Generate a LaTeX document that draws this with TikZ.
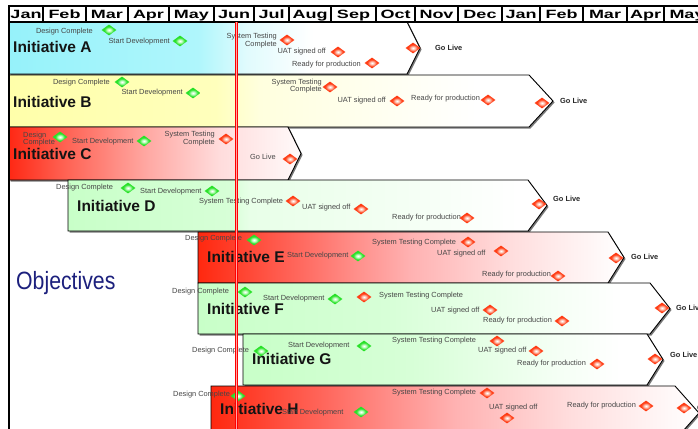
\documentclass[tikz,border=0pt]{standalone}
\usepackage{fontspec}
\setmainfont{Liberation Sans}
\newfontfamily\hdrfont[FakeStretch=1.5]{Liberation Sans}
\newfontfamily\objfont[FakeStretch=0.85]{Liberation Sans}
\usetikzlibrary{shapes.geometric}

\definecolor{labelgray}{RGB}{70,70,70}
\definecolor{objblue}{RGB}{28,32,125}
\definecolor{gout}{RGB}{40,225,40}
\definecolor{gin}{RGB}{200,255,200}
\definecolor{rout}{RGB}{255,60,20}
\definecolor{rin}{RGB}{255,205,190}
\definecolor{todayred}{RGB}{255,0,0}
\definecolor{todaypink}{RGB}{255,165,165}
\definecolor{shadowc}{RGB}{120,120,120}
\definecolor{cA0}{RGB}{150,242,250}
\definecolor{cA1}{RGB}{175,246,252}
\definecolor{cA2}{RGB}{225,251,253}
\definecolor{cB0}{RGB}{255,255,170}
\definecolor{cB1}{RGB}{255,255,188}
\definecolor{cB2}{RGB}{255,255,222}
\definecolor{cC0}{RGB}{255,40,20}
\definecolor{cC1}{RGB}{255,95,80}
\definecolor{cC2}{RGB}{255,170,165}
\definecolor{cC3}{RGB}{255,220,220}
\definecolor{cC4}{RGB}{255,250,250}
\definecolor{cG0}{RGB}{200,255,200}
\definecolor{cG1}{RGB}{215,255,215}
\definecolor{cG2}{RGB}{232,255,232}
\definecolor{cG3}{RGB}{244,255,244}
\definecolor{cR0}{RGB}{255,40,15}
\definecolor{cR1}{RGB}{255,105,95}
\definecolor{cR2}{RGB}{255,140,135}
\definecolor{cR3}{RGB}{255,178,178}
\definecolor{cR4}{RGB}{255,222,222}
\definecolor{cR5}{RGB}{255,248,248}

\pgfdeclarehorizontalshading{shA}{100bp}{color(0bp)=(cA0); color(25bp)=(cA0); color(48bp)=(cA1); color(54bp)=(cA2); color(62bp)=(white); color(100bp)=(white)}
\pgfdeclarehorizontalshading{shB}{100bp}{color(0bp)=(cB0); color(25bp)=(cB0); color(44bp)=(cB1); color(48bp)=(cB2); color(68bp)=(white); color(100bp)=(white)}
\pgfdeclarehorizontalshading{shC}{100bp}{color(0bp)=(cC0); color(25bp)=(cC0); color(34bp)=(cC1); color(49bp)=(cC2); color(61bp)=(cC3); color(75bp)=(cC4); color(100bp)=(cC4)}
\pgfdeclarehorizontalshading{shD}{100bp}{color(0bp)=(cG0); color(25bp)=(cG0); color(42bp)=(cG1); color(44bp)=(cG2); color(60bp)=(cG3); color(72bp)=(white); color(100bp)=(white)}
\pgfdeclarehorizontalshading{shGr}{100bp}{color(0bp)=(cG0); color(25bp)=(cG0); color(45bp)=(cG1); color(55bp)=(cG2); color(62bp)=(cG3); color(70bp)=(white); color(100bp)=(white)}
\pgfdeclarehorizontalshading{shR}{100bp}{color(0bp)=(cR0); color(25bp)=(cR0); color(37bp)=(cR1); color(43bp)=(cR2); color(50bp)=(cR3); color(62bp)=(cR4); color(72bp)=(cR5); color(75bp)=(white); color(100bp)=(white)}
\pgfdeclareradialshading{gdshade}{\pgfpoint{0bp}{0bp}}{color(0bp)=(white); color(6bp)=(gin); color(16bp)=(gout); color(50bp)=(gout)}
\pgfdeclareradialshading{rdshade}{\pgfpoint{0bp}{0bp}}{color(0bp)=(white); color(6bp)=(rin); color(16bp)=(rout); color(50bp)=(rout)}

\newcommand\mychev[6]{%
  \fill[shadowc, shift={(1.5,1.5)}] (#1,#2) -- (#3,#2) -- (#4,{(#2+#5)/2}) -- (#3,#5) -- (#1,#5) -- cycle;
  \shade[shading=#6, draw=black, line width=0.9pt] (#1,#2) -- (#3,#2) -- (#4,{(#2+#5)/2}) -- (#3,#5) -- (#1,#5) -- cycle;
}

\begin{document}
\begin{tikzpicture}[x=1pt,y=-1pt,
  lbl/.style={font=\fontsize{7.4}{7.6}\selectfont, text=labelgray, inner sep=0pt},
  gl/.style={font=\fontsize{7.4}{8}\selectfont\bfseries, text=black!85, inner sep=0pt, anchor=west},
  init/.style={font=\fontsize{15.5}{16}\selectfont\bfseries, text=black!92, inner sep=0pt, anchor=west},
  gdia/.style={diamond, aspect=1.4, minimum width=15pt, minimum height=11pt, inner sep=0pt, shade, shading=gdshade},
  rdia/.style={diamond, aspect=1.4, minimum width=15pt, minimum height=11pt, inner sep=0pt, shade, shading=rdshade},
  hdr/.style={font=\hdrfont\fontsize{12}{13}\selectfont\bfseries, draw=black, line width=1.2pt, fill=white,
    minimum height=16pt, text height=11pt, text depth=1pt, inner sep=0pt, outer sep=0pt, anchor=north west}]
\useasboundingbox (0,0) rectangle (698,428);
\clip (0,0) rectangle (698,428);
\fill[white] (0,0) rectangle (698,428);

% initiative bars
\mychev{9}{22}{407}{420}{74}{shA}
\mychev{9}{75}{529}{553}{127}{shB}
\mychev{9}{127}{288}{301}{180}{shC}
\mychev{68}{180}{528}{547}{231}{shD}
\mychev{198}{232}{608}{624}{283}{shR}
\mychev{198}{283}{650}{670}{334}{shGr}
\mychev{243}{334}{647}{663}{385}{shGr}
\mychev{211}{386}{675}{699}{440}{shR}

% left border
\coordinate (lbTop) at (9,6);
\coordinate (lbBot) at (9,430);
\draw[line width=2pt] (lbTop) -- (lbBot);

% header
\foreach \m/\a/\b [count=\i] in {Jan/9/43,Feb/43/86,Mar/86/128,Apr/128/169,May/169/214,Jun/214/254,Jul/254/289,Aug/289/331,Sep/331/376,Oct/376/415,Nov/415/458,Dec/458/502,Jan/502/540,Feb/540/583,Mar/583/627,Apr/627/664,May/664/710}
  \node[hdr, minimum width={(\b-\a)*1pt}] (m\i) at (\a,6) {\m};

% Objectives
\node[font=\objfont\fontsize{25}{26}\selectfont, text=objblue, inner sep=0pt, anchor=west] (obj) at (16,283) {Objectives};

% Row A
\node[init] (aN) at (13,47) {Initiative A};
\node[lbl, anchor=east] (aDCt) at (93,32) {Design Complete};
\node[gdia] (aDC) at (109,30) {};
\node[lbl, anchor=east] (aSDt) at (170,42) {Start Development};
\node[gdia] (aSD) at (180,41) {};
\node[lbl, anchor=east, align=right] (aSTt) at (277,40.5) {System Testing\\Complete};
\node[rdia] (aST) at (287,40) {};
\node[lbl, anchor=east] (aUATt) at (326,52) {UAT signed off};
\node[rdia] (aUAT) at (338,52) {};
\node[lbl, anchor=east] (aRPt) at (361,65) {Ready for production};
\node[rdia] (aRP) at (372,63) {};
\node[rdia] (aGL) at (413,48) {};
\node[gl] (aGLt) at (435,48) {Go Live};

% Row B
\node[init] (bN) at (13,102) {Initiative B};
\node[lbl, anchor=east] (bDCt) at (110,83) {Design Complete};
\node[gdia] (bDC) at (122,82) {};
\node[lbl, anchor=east] (bSDt) at (183,93) {Start Development};
\node[gdia] (bSD) at (193,93) {};
\node[lbl, anchor=east, align=right] (bSTt) at (322,86) {System Testing\\Complete};
\node[rdia] (bST) at (330,87) {};
\node[lbl, anchor=east] (bUATt) at (386,101) {UAT signed off};
\node[rdia] (bUAT) at (397,101) {};
\node[lbl, anchor=west] (bRPt) at (411,99) {Ready for production};
\node[rdia] (bRP) at (488,100) {};
\node[rdia] (bGL) at (542,103) {};
\node[gl] (bGLt) at (560,101) {Go Live};

% Row C
\node[init] (cN) at (13,154) {Initiative C};
\node[lbl, anchor=west, align=left] (cDCt) at (23,139) {Design\\Complete};
\node[gdia] (cDC) at (60,137) {};
\node[lbl, anchor=west] (cSDt) at (72,142) {Start Development};
\node[gdia] (cSD) at (144,141) {};
\node[lbl, anchor=east, align=right] (cSTt) at (215,138.5) {System Testing\\Complete};
\node[rdia] (cST) at (226,139) {};
\node[lbl, anchor=west] (cGLt) at (250,157) {Go Live};
\node[rdia] (cGL) at (290,159) {};

% Row D
\node[init] (dN) at (77,206) {Initiative D};
\node[lbl, anchor=west] (dDCt) at (56,188) {Design Complete};
\node[gdia] (dDC) at (128,188) {};
\node[lbl, anchor=west] (dSDt) at (140,192) {Start Development};
\node[gdia] (dSD) at (212,191) {};
\node[lbl, anchor=west] (dSTt) at (199,202) {System Testing Complete};
\node[rdia] (dST) at (293,201) {};
\node[lbl, anchor=west] (dUATt) at (302,208) {UAT signed off};
\node[rdia] (dUAT) at (361,209) {};
\node[lbl, anchor=west] (dRPt) at (392,218) {Ready for production};
\node[rdia] (dRP) at (467,218) {};
\node[rdia] (dGL) at (539,204) {};
\node[gl] (dGLt) at (553,199) {Go Live};

% Row E
\node[init] (eN) at (207,257) {Initiative E};
\node[lbl, anchor=west] (eDCt) at (185,239) {Design Complete};
\node[gdia] (eDC) at (254,240) {};
\node[lbl, anchor=west] (eSDt) at (287,256) {Start Development};
\node[gdia] (eSD) at (358,256) {};
\node[lbl, anchor=west] (eSTt) at (372,243) {System Testing Complete};
\node[rdia] (eST) at (468,242) {};
\node[lbl, anchor=west] (eUATt) at (437,254) {UAT signed off};
\node[rdia] (eUAT) at (501,251) {};
\node[lbl, anchor=west] (eRPt) at (482,275) {Ready for production};
\node[rdia] (eRP) at (558,276) {};
\node[rdia] (eGL) at (616,258) {};
\node[gl] (eGLt) at (631,257) {Go Live};

% Row F
\node[init] (fN) at (207,309) {Initiative F};
\node[lbl, anchor=west] (fDCt) at (172,292) {Design Complete};
\node[gdia] (fDC) at (245,292) {};
\node[lbl, anchor=west] (fSDt) at (263,299) {Start Development};
\node[gdia] (fSD) at (335,299) {};
\node[rdia] (fST) at (364,297) {};
\node[lbl, anchor=west] (fSTt) at (379,296) {System Testing Complete};
\node[lbl, anchor=west] (fUATt) at (431,311) {UAT signed off};
\node[rdia] (fUAT) at (490,310) {};
\node[lbl, anchor=west] (fRPt) at (483,321) {Ready for production};
\node[rdia] (fRP) at (562,321) {};
\node[rdia] (fGL) at (662,308) {};
\node[gl] (fGLt) at (676,308) {Go Live};

% Row G
\node[init] (gN) at (252,359) {Initiative G};
\node[lbl, anchor=west] (gDCt) at (192,351) {Design Complete};
\node[gdia] (gDC) at (261,351) {};
\node[lbl, anchor=west] (gSDt) at (288,346) {Start Development};
\node[gdia] (gSD) at (364,346) {};
\node[lbl, anchor=west] (gSTt) at (392,341) {System Testing Complete};
\node[rdia] (gST) at (497,341) {};
\node[lbl, anchor=west] (gUATt) at (478,351) {UAT signed off};
\node[rdia] (gUAT) at (536,351) {};
\node[lbl, anchor=west] (gRPt) at (517,364) {Ready for production};
\node[rdia] (gRP) at (597,364) {};
\node[rdia] (gGL) at (655,359) {};
\node[gl] (gGLt) at (670,355) {Go Live};

% Row H
\node[init] (hN) at (220,409) {Initiative H};
\node[lbl, anchor=west] (hDCt) at (173,395) {Design Complete};
\node[gdia] (hDC) at (238,396) {};
\node[lbl, anchor=west] (hSDt) at (282,413) {Start Development};
\node[gdia] (hSD) at (361,412) {};
\node[lbl, anchor=west] (hSTt) at (392,393) {System Testing Complete};
\node[rdia] (hST) at (487,393) {};
\node[lbl, anchor=west] (hUATt) at (489,408) {UAT signed off};
\node[rdia] (hUAT) at (507,418) {};
\node[lbl, anchor=west] (hRPt) at (567,406) {Ready for production};
\node[rdia] (hRP) at (646,406) {};
\node[rdia] (hGL) at (684,408) {};
\node[gl] (hGLt) at (697,408) {Go Live};

% today line
\coordinate (tTop) at (236.5,22.5);
\coordinate (tBot) at (236.5,430);
\draw[todayred, line width=3.4pt] (tTop) -- (tBot);
\draw[todaypink, line width=1pt] (tTop) -- (tBot);
\end{tikzpicture}
\end{document}
